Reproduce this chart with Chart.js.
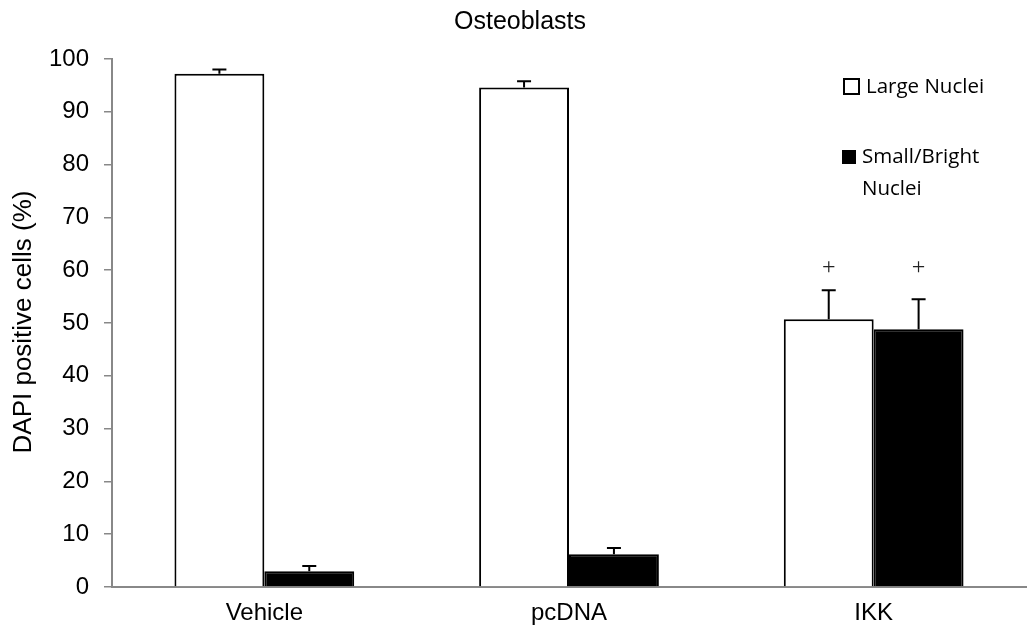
<!DOCTYPE html>
<html>
<head>
<meta charset="utf-8">
<script src="https://cdn.jsdelivr.net/npm/chart.js@4"></script>
<style>
  html, body { margin: 0; padding: 0; background: #fff; }
  #wrap { width: 1027px; height: 634px; }
</style>
</head>
<body>
<div id="wrap"><canvas id="chart" width="1027" height="634"></canvas></div>
<script>
const categories = ['Vehicle', 'pcDNA', 'IKK']
const largeNuclei = [97.2, 94.6, 50.7]
const largeErr = [0.8, 1.2, 5.5]
const smallNuclei = [3.0, 6.2, 48.8]
const smallErr = [1.0, 1.2, 5.7]
const marks = ['', '', '+']
const yTicks = [0, 10, 20, 30, 40, 50, 60, 70, 80, 90, 100]

const sans = '"Liberation Sans", Arial, sans-serif'
const legendFont = '"Open Sans", "Noto Sans", sans-serif'

// error bars (upper only), "+" marks, title, y title and legend
const extras = {
  id: 'extras',
  afterDatasetsDraw(chart) {
    const { ctx, scales: { y } } = chart
    const errs = [largeErr, smallErr]
    ctx.save()
    ctx.strokeStyle = '#000'
    ctx.lineWidth = 2
    chart.data.datasets.forEach((ds, di) => {
      chart.getDatasetMeta(di).data.forEach((bar, i) => {
        const top = y.getPixelForValue(ds.data[i] + errs[di][i])
        ctx.beginPath()
        ctx.moveTo(bar.x, bar.y)
        ctx.lineTo(bar.x, top)
        ctx.moveTo(bar.x - 7, top)
        ctx.lineTo(bar.x + 7, top)
        ctx.stroke()
        if (marks[i]) {
          ctx.fillStyle = '#222'
          ctx.font = '24px "Liberation Serif", serif'
          ctx.textAlign = 'center'
          ctx.textBaseline = 'middle'
          ctx.fillText(marks[i], bar.x, y.getPixelForValue(60.5))
        }
      })
    })

    ctx.fillStyle = '#000'
    ctx.textBaseline = 'middle'
    ctx.textAlign = 'center'
    ctx.font = '25px ' + sans
    ctx.fillText('Osteoblasts', 520, 22)

    ctx.save()
    ctx.translate(24, 322)
    ctx.rotate(-Math.PI / 2)
    ctx.font = '26px ' + sans
    ctx.fillText('DAPI positive cells (%)', 0, 0)
    ctx.restore()

    // legend
    ctx.textAlign = 'left'
    ctx.font = '20.5px ' + legendFont
    ctx.lineWidth = 2
    ctx.strokeRect(844, 79, 15, 15)
    ctx.fillText('Large Nuclei', 866, 87)
    ctx.fillRect(842, 150, 14, 14)
    ctx.fillText('Small/Bright', 862, 157)
    ctx.fillText('Nuclei', 862, 189)
    ctx.restore()
  },
}

new Chart(document.getElementById('chart'), {
  type: 'bar',
  data: {
    labels: categories,
    datasets: [
      {
        label: 'Large Nuclei',
        data: largeNuclei,
        backgroundColor: '#fff',
        borderColor: '#000',
        borderWidth: 2,
        borderSkipped: 'bottom',
      },
      {
        label: 'Small/Bright Nuclei',
        data: smallNuclei,
        backgroundColor: '#000',
        borderColor: '#000',
        borderWidth: 2,
        borderSkipped: 'bottom',
      },
    ],
  },
  plugins: [extras],
  options: {
    responsive: false,
    animation: false,
    layout: { padding: { top: 59, right: 1, left: 0, bottom: 0 } },
    datasets: { bar: { categoryPercentage: 0.59, barPercentage: 1 } },
    plugins: {
      legend: { display: false },
      tooltip: { enabled: false },
      title: { display: false },
    },
    scales: {
      x: {
        afterFit: (s) => { s.height = 47 },
        grid: { display: false, drawTicks: false },
        border: { color: '#888', width: 2 },
        ticks: { color: '#000', font: { family: sans, size: 24 }, padding: 12 },
      },
      y: {
        min: 0,
        max: 100,
        afterFit: (s) => { s.width = 112 },
        afterBuildTicks: (s) => { s.ticks = yTicks.map((v) => ({ value: v })) },
        grid: { drawOnChartArea: false, tickLength: 8, color: '#888', lineWidth: 1.5 },
        border: { color: '#888', width: 2 },
        ticks: { color: '#000', font: { family: sans, size: 24 }, padding: 15 },
      },
    },
  },
})
</script>
</body>
</html>
